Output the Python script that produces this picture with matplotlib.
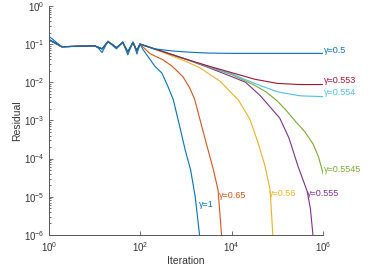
import matplotlib
matplotlib.use("Agg")
import matplotlib.pyplot as plt
import matplotlib.ticker as mticker
import numpy as np

plt.rcParams["font.family"] = ["Liberation Sans", "DejaVu Sans"]
plt.rcParams["mathtext.fontset"] = "custom"
plt.rcParams["mathtext.rm"] = "Liberation Sans"
plt.rcParams["mathtext.it"] = "Liberation Sans:italic"

# early (oscillating) phase, iterations 1..100
early_iter = [1, 1.9, 5, 10, 12, 14.5, 19.5, 25, 30, 41, 53, 69, 84, 98]
early_res = [0.13, 0.085, 0.088, 0.09, 0.082, 0.075, 0.115, 0.095, 0.08, 0.11, 0.062, 0.11, 0.066, 0.1]
early_res_g1 = [0.16, 0.085, 0.088, 0.09, 0.078, 0.06, 0.12, 0.09, 0.075, 0.115, 0.052, 0.115, 0.055, 0.1]

gammas = ["1", "0.65", "0.56", "0.555", "0.5545", "0.554", "0.553", "0.5"]
colors = ["#0072BD", "#D95319", "#EDB120", "#7E2F8E", "#77AC30", "#4DBEEE", "#A2142F", "#0072BD"]

# tails after iteration ~100
tail_iter = {
    "1": [115, 209, 295, 398, 525, 708, 955, 1259, 1585, 1995],
    "0.65": [162, 309, 501, 851, 1202, 1549, 1995, 3020, 3981, 5012, 6026],
    "0.56": [316, 1000, 2000, 3162, 5623, 10715, 13800, 25119, 38019, 53703, 69183, 80000],
    "0.555": [316, 1000, 3162, 10000, 19953, 41687, 112200, 177828, 281838, 446684, 524807, 610000],
    "0.5545": [316, 1000, 3162, 10000, 31623, 56234, 100000, 158489, 251189, 398107, 602560, 794328, 1000000],
    "0.554": [316, 1000, 3162, 10000, 31623, 100000, 316228, 1000000],
    "0.553": [316, 1000, 3162, 10000, 31623, 100000, 316228, 1000000],
    "0.5": [200, 500, 1000, 3000, 10000, 100000, 1000000],
}
tail_res = {
    "1": [0.071, 0.026, 0.0174, 0.0079, 0.0035, 7.9e-4, 1.7e-4, 5e-5, 1e-5, 8.9e-7],
    "0.65": [0.056, 0.039, 0.026, 0.014, 0.0071, 0.0035, 0.0011, 1.7e-4, 5e-5, 1.5e-5, 8.9e-7],
    "0.56": [0.06, 0.035, 0.024, 0.0166, 0.0105, 0.0047, 0.0035, 0.00105, 2.5e-4, 6.3e-5, 1.5e-5, 8e-7],
    "0.555": [0.063, 0.04, 0.024, 0.014, 0.01, 0.0045, 0.00115, 3.5e-4, 6.3e-5, 1.4e-5, 5e-6, 8e-7],
    "0.5545": [0.063, 0.04, 0.025, 0.0158, 0.0083, 0.0056, 0.0032, 0.00178, 9.3e-4, 5e-4, 2.4e-4, 1.1e-4, 4e-5],
    "0.554": [0.063, 0.04, 0.0257, 0.0166, 0.0093, 0.0056, 0.0044, 0.0042],
    "0.553": [0.063, 0.04, 0.0263, 0.0178, 0.012, 0.0093, 0.0087, 0.0087],
    "0.5": [0.075, 0.066, 0.062, 0.058, 0.057, 0.057, 0.057],
}

# label anchor points (left edge, vertical centre)
label_pos = {
    "1": (1.9e3, 6.2e-6),
    "0.65": (5.2e3, 1.07e-5),
    "0.56": (6.4e4, 1.25e-5),
    "0.555": (4.4e5, 1.25e-5),
    "0.5545": (1.05e6, 5.2e-5),
    "0.554": (1.05e6, 5.4e-3),
    "0.553": (1.05e6, 1.08e-2),
    "0.5": (1.05e6, 0.068),
}

fig = plt.figure(figsize=(3.74, 2.8), dpi=100)
ax = fig.add_axes([0.131, 0.161, 0.733, 0.818])

for g, c in zip(gammas, colors):
    e = early_res_g1 if g == "1" else early_res
    x = list(early_iter) + tail_iter[g]
    y = list(e) + tail_res[g]
    ax.plot(x, y, color=c, lw=0.8)
    lx, ly = label_pos[g]
    ax.text(lx, ly, "\u03b3=" + g, color=c, fontsize=6.5, ha="left", va="center",
            clip_on=False)

ax.set_xscale("log")
ax.set_yscale("log")
ax.set_xlim(1, 1e6)
ax.set_ylim(1e-6, 1)
ax.set_xticks([1, 1e2, 1e4, 1e6])
ax.xaxis.set_minor_locator(mticker.NullLocator())
ax.yaxis.set_major_locator(mticker.LogLocator(base=10, numticks=10))
ax.yaxis.set_minor_locator(mticker.LogLocator(base=10, subs=np.arange(2, 10), numticks=20))

for s in ["top", "right"]:
    ax.spines[s].set_visible(False)
for s in ["left", "bottom"]:
    ax.spines[s].set_color("#555555")
    ax.spines[s].set_linewidth(0.7)

ax.tick_params(which="both", direction="in", colors="#555555", labelcolor="#333333",
               labelsize=7, width=0.6)
ax.tick_params(which="major", length=3)
ax.tick_params(which="minor", length=1.5)

ax.set_xlabel("Iteration", fontsize=7.5, color="#333333", labelpad=2)
ax.set_ylabel("Residual", fontsize=7.5, color="#333333", labelpad=1)

fig.savefig("out.png", dpi=100)
